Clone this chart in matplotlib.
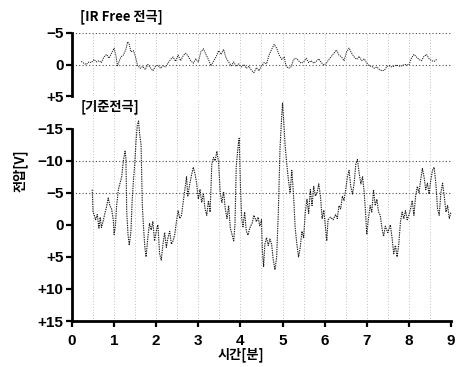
#!/usr/bin/env python3

# Run: python3 plot.py

import matplotlib

matplotlib.use("Agg")
import matplotlib.pyplot as plt

KO_FONT = ["Noto Sans CJK KR", "DejaVu Sans"]
NUM_FONT = ["Liberation Sans", "DejaVu Sans"]

# [IR Free 전극] trace (minutes, volts)
IRFREE_TIME = [
	0.22, 0.28, 0.34, 0.40, 0.46, 0.52, 0.58, 0.64, 0.70, 0.76, 0.82, 0.88, 0.94, 1.00, 1.04, 1.08,
	1.12, 1.16, 1.22, 1.28, 1.32, 1.36, 1.40, 1.46, 1.50, 1.56, 1.62, 1.68, 1.74, 1.80, 1.86, 1.92,
	1.98, 2.04, 2.10, 2.16, 2.22, 2.28, 2.34, 2.40, 2.46, 2.52, 2.58, 2.64, 2.70, 2.76, 2.82, 2.88,
	2.94, 3.00, 3.06, 3.12, 3.18, 3.24, 3.30, 3.36, 3.42, 3.48, 3.54, 3.60, 3.66, 3.72, 3.78, 3.84,
	3.90, 3.96, 4.02, 4.08, 4.14, 4.20, 4.26, 4.32, 4.38, 4.44, 4.50, 4.56, 4.62, 4.68, 4.74, 4.80,
	4.86, 4.92, 4.98, 5.04, 5.08, 5.14, 5.20, 5.26, 5.32, 5.38, 5.44, 5.50, 5.56, 5.62, 5.68, 5.74,
	5.80, 5.86, 5.92, 5.98, 6.04, 6.10, 6.16, 6.22, 6.28, 6.34, 6.40, 6.46, 6.52, 6.58, 6.64, 6.70,
	6.76, 6.82, 6.88, 6.94, 7.00, 7.06, 7.12, 7.18, 7.24, 7.30, 7.36, 7.42, 7.48, 7.54, 7.60, 7.70,
	7.80, 7.90, 8.00, 8.06, 8.12, 8.18, 8.24, 8.30, 8.36, 8.42, 8.48, 8.54, 8.60, 8.66,
]
IRFREE_VOLT = [
	-0.5, -0.2, 0.0, -0.4, -0.3, -0.8, -0.4, -0.6, -0.3, -1.2, -1.6, -1.0, -1.8, -2.6, -1.5, 0.2,
	-0.5, -1.2, -1.5, -2.4, -3.6, -3.2, -2.0, -2.2, -1.4, 0.2, 0.6, 0.3, 0.8, 0.0, 0.5, 1.0,
	0.3, 0.1, 0.6, 0.2, 0.4, -0.2, -0.8, -1.2, -0.5, -1.5, -0.6, -1.4, -1.8, -1.3, -0.6, -0.2,
	-0.9, -0.4, -2.0, -2.5, -1.6, -0.8, 0.2, -0.5, -1.2, -2.2, -1.6, -2.4, -1.0, -0.4, 0.2, -0.4,
	0.3, -0.1, 0.4, 0.0, 0.6, 0.3, 0.9, 1.3, 0.5, 1.0, 0.2, -0.3, -0.1, -1.5, -2.4, -3.2,
	-2.6, -1.5, -0.8, -1.2, 0.2, 0.6, 0.4, -0.8, -1.0, -0.6, -0.2, -0.4, -1.0, -0.3, -0.6, -0.2,
	-0.5, -0.9, -0.3, 0.1, -0.2, -0.8, -1.3, -1.8, -2.3, -1.5, -1.2, -0.6, -2.0, -2.6, -1.8, -1.2,
	-0.8, -1.3, -0.6, -0.9, -0.2, 0.2, 0.3, 0.6, 0.4, 0.8, 1.0, 0.9, 0.3, 0.2, 0.4, 0.1,
	0.3, 0.0, 0.1, -1.0, -1.6, -1.2, -0.8, -0.6, -1.3, -1.6, -0.9, -0.6, -0.5, -0.8,
]

# [기준전극] trace
REF_TIME = [
	0.48, 0.50, 0.53, 0.56, 0.60, 0.64, 0.67, 0.70, 0.74, 0.78, 0.82, 0.86, 0.90, 0.94, 0.98, 1.00,
	1.03, 1.06, 1.10, 1.14, 1.18, 1.22, 1.26, 1.28, 1.30, 1.33, 1.36, 1.40, 1.43, 1.46, 1.49, 1.52,
	1.55, 1.58, 1.61, 1.64, 1.67, 1.70, 1.73, 1.76, 1.80, 1.84, 1.88, 1.92, 1.96, 2.00, 2.04, 2.08,
	2.12, 2.16, 2.20, 2.24, 2.28, 2.32, 2.36, 2.40, 2.44, 2.48, 2.52, 2.56, 2.60, 2.64, 2.68, 2.72,
	2.75, 2.80, 2.84, 2.88, 2.92, 2.96, 3.00, 3.04, 3.08, 3.12, 3.16, 3.20, 3.24, 3.28, 3.32, 3.36,
	3.40, 3.44, 3.48, 3.52, 3.56, 3.60, 3.64, 3.68, 3.72, 3.76, 3.80, 3.84, 3.87, 3.90, 3.94, 3.97,
	4.00, 4.03, 4.06, 4.10, 4.14, 4.18, 4.22, 4.28, 4.32, 4.38, 4.42, 4.46, 4.50, 4.52, 4.55, 4.58,
	4.62, 4.66, 4.70, 4.74, 4.78, 4.82, 4.86, 4.90, 4.94, 4.98, 5.00, 5.03, 5.06, 5.10, 5.14, 5.18,
	5.22, 5.26, 5.30, 5.34, 5.38, 5.42, 5.46, 5.50, 5.54, 5.58, 5.62, 5.66, 5.70, 5.74, 5.78, 5.82,
	5.86, 5.90, 5.94, 5.98, 6.02, 6.05, 6.08, 6.14, 6.20, 6.26, 6.30, 6.34, 6.38, 6.42, 6.46, 6.50,
	6.54, 6.58, 6.62, 6.66, 6.70, 6.74, 6.78, 6.82, 6.86, 6.90, 6.94, 6.97, 7.00, 7.04, 7.08, 7.12,
	7.16, 7.20, 7.24, 7.28, 7.32, 7.36, 7.40, 7.44, 7.50, 7.56, 7.60, 7.64, 7.68, 7.72, 7.76, 7.80,
	7.84, 7.88, 7.92, 7.96, 8.00, 8.04, 8.08, 8.12, 8.16, 8.20, 8.24, 8.28, 8.32, 8.36, 8.40, 8.44,
	8.48, 8.52, 8.56, 8.60, 8.64, 8.68, 8.72, 8.76, 8.80, 8.84, 8.88, 8.92, 8.96, 9.00,
]
REF_VOLT = [
	-5.5, -2.0, -1.5, -0.8, -1.6, 0.5, -1.2, 0.4, -0.6, -1.8, -2.8, -4.2, -3.0, -2.5, -0.8, 1.5,
	0.2, -3.0, -5.5, -6.5, -7.5, -10.0, -11.5, -10.5, -2.0, 1.5, 3.2, 1.0, -4.0, -7.0, -9.5, -13.0,
	-15.5, -16.2, -14.0, -12.5, -3.0, 0.5, 3.5, 5.0, 2.0, -0.2, 0.8, -0.5, 2.5, 1.0, 0.0, 4.5,
	5.5, 3.0, 1.2, 3.5, 2.0, 1.0, 3.0, 2.5, 1.5, -0.5, -2.2, -1.0, -1.5, -3.5, -5.5, -7.5,
	-4.5, -6.5, -7.8, -9.0, -8.0, -6.5, -4.0, -5.5, -3.5, -4.8, -2.5, -1.5, -3.8, -2.0, -9.5, -10.5,
	-10.0, -11.5, -9.8, -5.0, -3.5, -5.2, -2.5, -1.0, -3.0, 0.5, 1.5, 2.5, 0.0, -9.0, -12.0, -13.5,
	-6.0, -1.0, 0.3, -2.0, 1.0, 1.6, 0.5, -0.3, -1.5, -0.5, -1.2, 0.2, -0.8, 4.0, 6.5, 3.0,
	2.0, 3.2, 2.2, 3.0, 5.5, 7.0, 5.0, -2.0, -12.0, -17.0, -19.0, -16.0, -12.5, -9.5, -7.0, -5.0,
	-8.5, -4.8, 0.5, 3.0, 5.0, 3.5, 1.0, 2.0, -2.0, -4.0, -1.8, -5.5, -3.0, -6.0, -4.5, -5.0,
	-6.4, -4.5, -1.0, -2.3, 0.5, 2.5, -0.8, -1.2, -0.8, -1.6, -1.0, -3.0, -2.5, -4.5, -3.8, -5.5,
	-7.5, -8.5, -6.0, -4.8, -6.5, -9.5, -10.2, -8.0, -6.4, -7.5, -5.0, -2.0, 1.5, -1.0, -3.0, -2.0,
	-5.5, -3.0, -4.0, -2.0, -1.5, 0.5, 1.8, 0.2, 1.2, 0.0, 2.0, 4.5, 3.2, 5.0, 3.0, -0.5,
	-2.0, -1.0, -2.2, -0.8, -1.5, -2.5, -3.8, -1.5, -4.5, -6.0, -5.0, -7.0, -8.8, -7.5, -5.5, -6.5,
	-4.8, -7.0, -8.5, -9.0, -6.5, -2.5, -1.5, -5.0, -6.5, -4.5, -2.0, -3.0, -1.0, -2.0,
]

X_TICKS = list(range(10))
IRFREE_TICKS = [-5, 0, 5]
IRFREE_TICK_LABELS = ["\u22125", "0", "+5"]
REF_TICKS = [-15, -10, -5, 0, 5, 10, 15]
REF_TICK_LABELS = ["\u221215", "\u221210", "\u22125", "0", "+5", "+10", "+15"]


def style_axis(ax):
	for side in ("top", "right"):
		ax.spines[side].set_visible(False)
	ax.spines["left"].set_linewidth(2.0)
	ax.spines["bottom"].set_linewidth(2.0)
	ax.tick_params(direction="out", length=4, width=1.6, labelsize=11, pad=2)
	for label in ax.get_xticklabels() + ax.get_yticklabels():
		label.set_family(NUM_FONT)
		label.set_fontweight("bold")


def chart_grid(ax, hlines):
	for y in hlines:
		ax.axhline(y, color="0.3", lw=0.8, ls=(0, (1, 2)), zorder=1)
	for i in range(1, 18):
		ax.axvline(i * 0.5, color="0.55", lw=0.5, ls=(0, (1, 3)), zorder=1)


def main():
	fig = plt.figure(figsize=(4.58, 3.67), dpi=100)

	top = fig.add_axes((0.1572, 0.7384, 0.8275, 0.1717))
	bot = fig.add_axes((0.1572, 0.1253, 0.8275, 0.6025))

	chart_grid(top, [-5, 0])
	top.plot(IRFREE_TIME, IRFREE_VOLT, color="0.1", lw=0.7, ls=(0, (1.2, 1.0)), zorder=3)
	top.set_xlim(0, 9)
	top.set_ylim(5, -5)
	top.set_yticks(IRFREE_TICKS)
	top.set_yticklabels(IRFREE_TICK_LABELS)
	top.set_xticks([])
	top.spines["bottom"].set_visible(False)
	style_axis(top)

	chart_grid(bot, [-10, -5])
	bot.plot(REF_TIME, REF_VOLT, color="0.1", lw=0.8, ls=(0, (1.2, 0.9)), zorder=3, clip_on=False)
	bot.set_xlim(0, 9)
	bot.set_ylim(15, -19.5)
	bot.spines["left"].set_bounds(-15, 15)
	bot.set_yticks(REF_TICKS)
	bot.set_yticklabels(REF_TICK_LABELS)
	bot.set_xticks(X_TICKS)
	bot.set_xticklabels([str(x) for x in X_TICKS])
	style_axis(bot)
	bot.tick_params(axis="x", pad=5)

	fig.text(0.175, 0.955, "[IR Free 전극]", family=KO_FONT, fontsize=9.5, fontweight="bold", va="center")
	fig.text(0.175, 0.708, "[기준전극]", family=KO_FONT, fontsize=9.5, fontweight="bold", va="center")
	fig.text(0.045, 0.535, "전압[V]", family=KO_FONT, fontsize=9.5, fontweight="bold", rotation=90, ha="center", va="center")
	fig.text(0.525, 0.033, "시간[분]", family=KO_FONT, fontsize=9.5, fontweight="bold", ha="center", va="center")

	fig.savefig("out.png", dpi=100)


if __name__ == "__main__":
	main()
